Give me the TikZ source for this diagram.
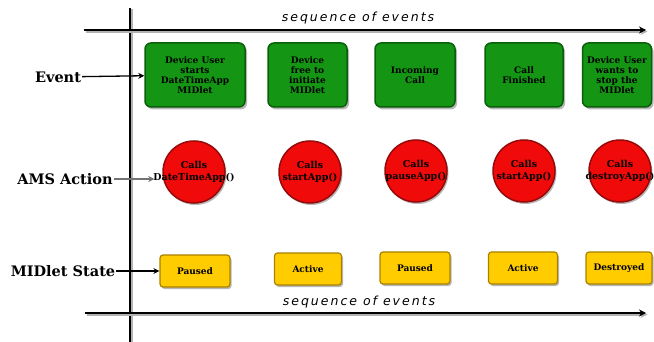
\documentclass[tikz,border=0pt]{standalone}
\usepackage{fontspec}
\setmainfont{DejaVu Serif}
\newfontfamily\seqfont[LetterSpace=16]{DejaVu Sans}
\usetikzlibrary{shadows,arrows.meta}

\definecolor{evgreen}{RGB}{20,150,20}
\definecolor{evgreenedge}{RGB}{10,95,10}
\definecolor{amsred}{RGB}{240,10,10}
\definecolor{amsrededge}{RGB}{150,10,10}
\definecolor{stgold}{RGB}{255,204,0}
\definecolor{stgoldedge}{RGB}{170,130,0}

\tikzset{
  axisline/.style={line width=2.2pt, draw=black,
    preaction={draw=black!30, line width=2.2pt, transform canvas={shift={(1.5pt,-1.5pt)}}}},
  axisarrow/.style={axisline, -{Stealth[length=7pt,width=7pt]}},
  seqlabel/.style={font=\seqfont\itshape\fontsize{12.5}{12.5}\selectfont, inner sep=0pt},
  rowlabel/.style={font=\bfseries\fontsize{14.5}{14.5}\selectfont, inner sep=1pt},
  eventbox/.style={draw=evgreenedge, line width=1.5pt, fill=evgreen, rounded corners=6pt,
    minimum height=64pt, align=center, inner sep=1pt,
    font=\bfseries\fontsize{9}{10}\selectfont,
    drop shadow={shadow xshift=2pt, shadow yshift=-2.5pt, fill=black!40, opacity=0.7}},
  actioncircle/.style={circle, draw=amsrededge, line width=1.5pt, fill=amsred,
    minimum size=62pt, inner sep=0pt,
    drop shadow={shadow xshift=1.5pt, shadow yshift=-2pt, fill=black!40, opacity=0.7}},
  actiontext/.style={align=center, inner sep=0pt,
    font=\bfseries\fontsize{9.5}{12}\selectfont},
  statebox/.style={draw=stgoldedge, line width=1.2pt, fill=stgold, rounded corners=3pt,
    minimum height=32pt, inner sep=1pt,
    font=\bfseries\fontsize{9}{10}\selectfont,
    drop shadow={shadow xshift=1.5pt, shadow yshift=-2pt, fill=black!40, opacity=0.7}},
  rowarrow/.style={line width=1.3pt, -{Stealth[length=6pt,width=6pt]}},
}

\begin{document}
\begin{tikzpicture}[x=1pt, y=-1pt]
  \useasboundingbox (0,0) rectangle (654,342);

  % time axes
  \coordinate (vTop) at (130,8);
  \coordinate (vBot) at (130,342);
  \coordinate (tL) at (84,30);
  \coordinate (tR) at (646,30);
  \coordinate (bL) at (85,313);
  \coordinate (bR) at (646,313);
  \draw[axisline] (vTop) -- (vBot);
  \draw[axisarrow] (tL) -- (tR);
  \draw[axisarrow] (bL) -- (bR);
  \node[seqlabel] (seqTop) at (358,18) {sequence of events};
  \node[seqlabel] (seqBot) at (359,302) {sequence of events};

  % row labels
  \node[rowlabel] (lEvent) at (58,77) {Event};
  \node[rowlabel] (lAction) at (65,179) {AMS Action};
  \node[rowlabel] (lState) at (63,271) {MIDlet State};

  % events
  \node[eventbox, minimum width=100pt] (e1) at (195,75) {Device User\\starts\\DateTimeApp\\MIDlet};
  \node[eventbox, minimum width=79pt] (e2) at (307.5,75) {Device\\free to\\initiate\\MIDlet};
  \node[eventbox, minimum width=80pt] (e3) at (415,75) {Incoming\\Call};
  \node[eventbox, minimum width=78pt] (e4) at (524,75) {Call\\Finished};
  \node[eventbox, minimum width=69pt] (e5) at (617,75) {Device User\\wants to\\stop the\\MIDlet};

  % AMS actions (text may run past the circle's rim)
  \node[actioncircle, label={[actiontext]center:Calls\\DateTimeApp()}] (a1) at (194,172) {};
  \node[actioncircle, label={[actiontext]center:Calls\\startApp()}] (a2) at (310,172) {};
  \node[actioncircle, label={[actiontext]center:Calls\\pauseApp()}] (a3) at (416,171) {};
  \node[actioncircle, label={[actiontext]center:Calls\\startApp()}] (a4) at (524,171) {};
  \node[actioncircle, label={[actiontext]center:Calls\\destroyApp()}] (a5) at (620,171) {};

  % MIDlet states
  \node[statebox, minimum width=70pt] (s1) at (195,271) {Paused};
  \node[statebox, minimum width=67pt] (s2) at (308,269) {Active};
  \node[statebox, minimum width=70pt] (s3) at (415,268) {Paused};
  \node[statebox, minimum width=69pt] (s4) at (523,268) {Active};
  \node[statebox, minimum width=66pt] (s5) at (619,268) {Destroyed};

  % label pointers
  \draw[rowarrow] (lEvent) -- (e1);
  \draw[rowarrow, draw=black!55, shorten >=8pt] (lAction.east) -- (a1.west |- lAction.east);
  \draw[rowarrow] (lState) -- (s1);
\end{tikzpicture}
\end{document}
